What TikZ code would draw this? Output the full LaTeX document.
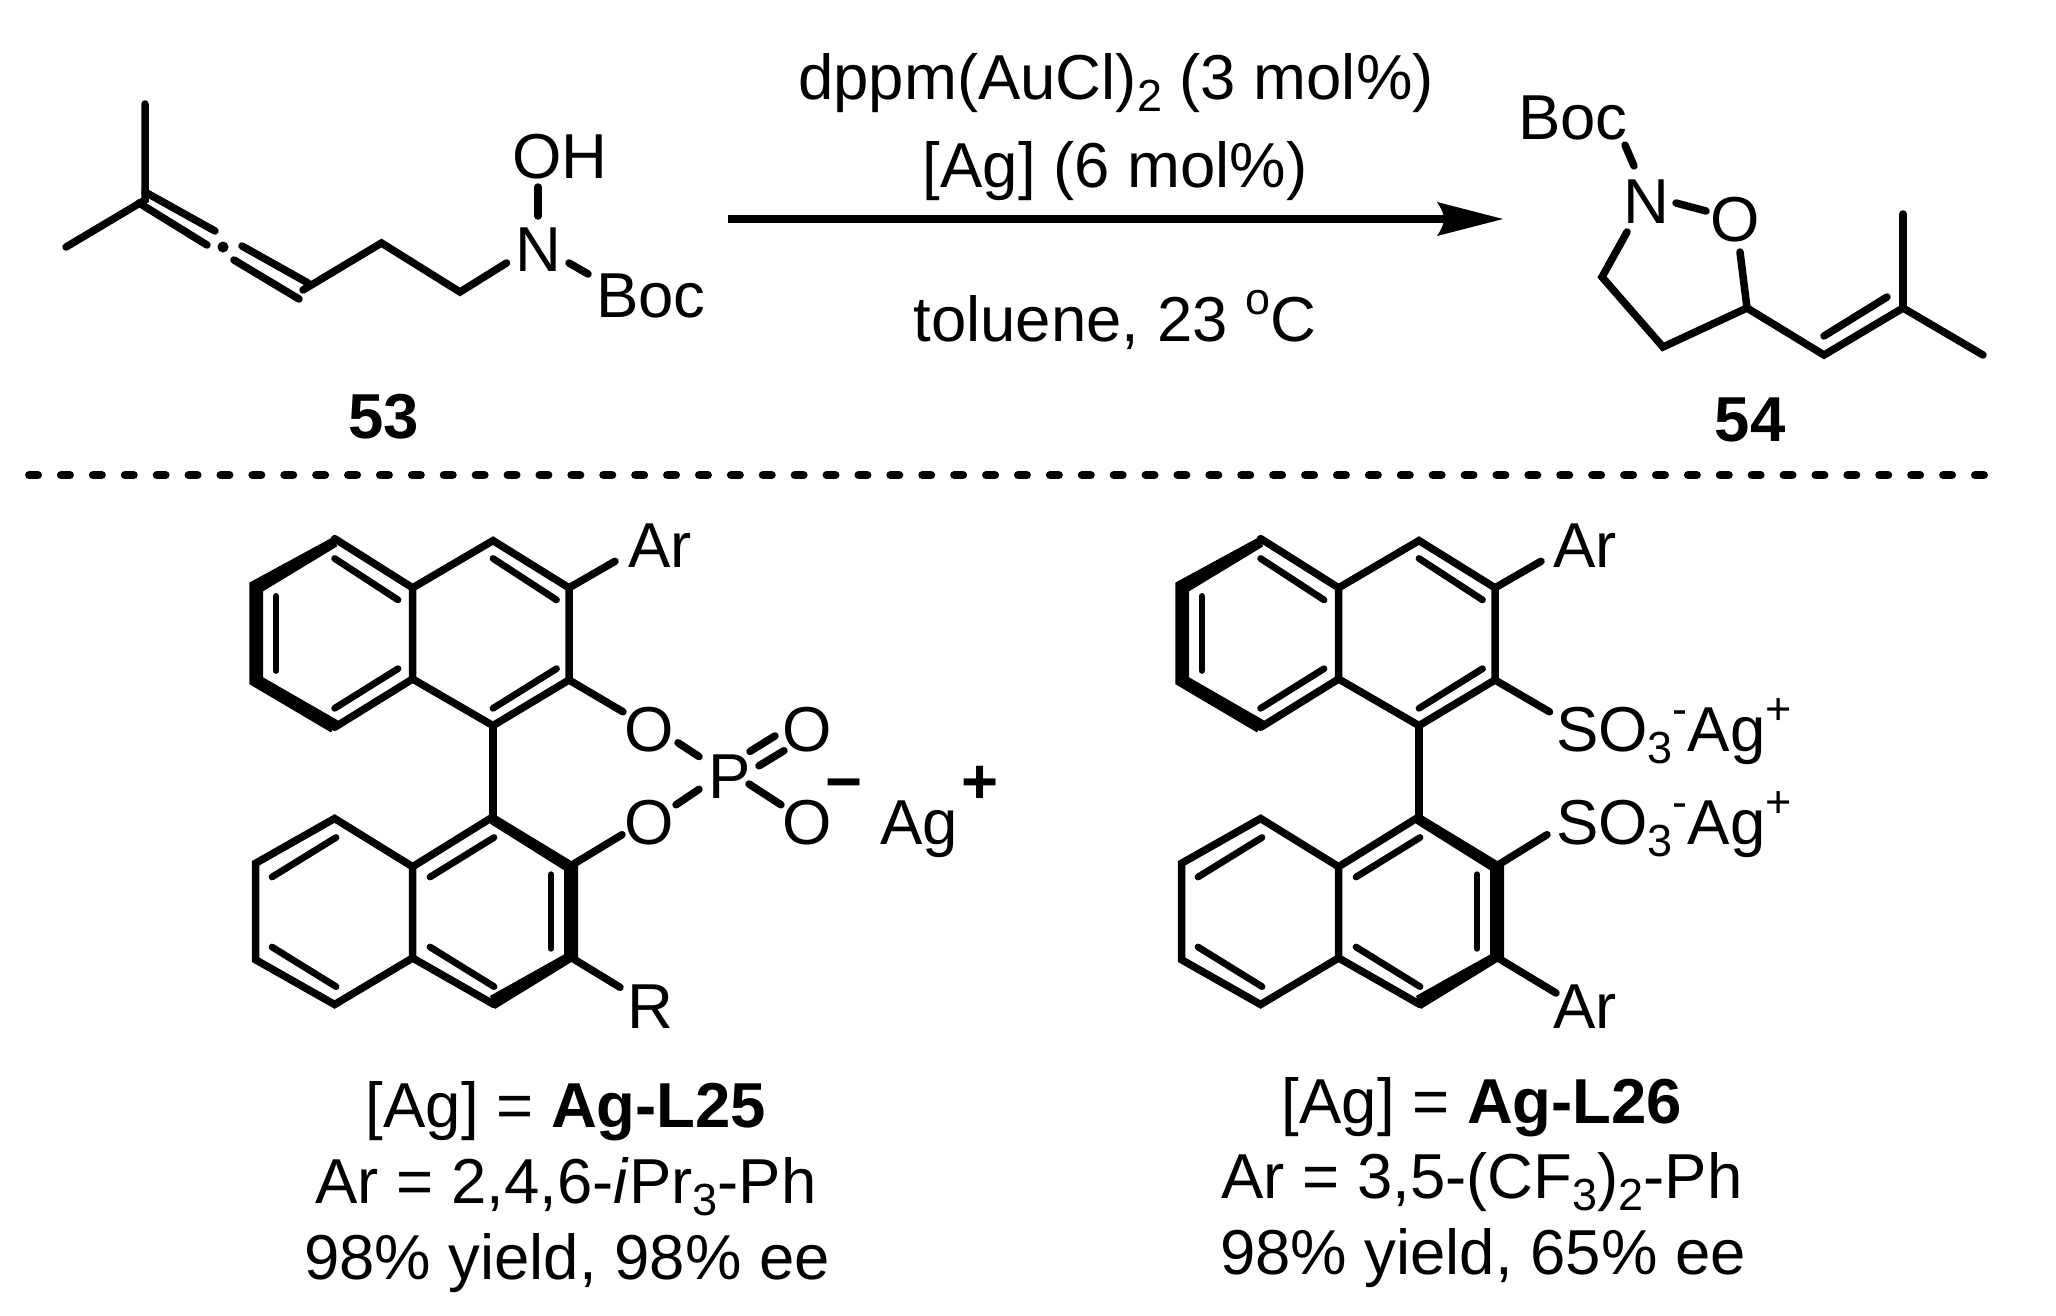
\documentclass[tikz,border=0pt]{standalone}
\usepackage{fontspec}
\setmainfont{Liberation Sans}
\newcommand{\subt}[1]{\raisebox{-0.19em}{\fontsize{45}{45}\selectfont #1}}
\newcommand{\supt}[1]{\raisebox{0.42em}{\fontsize{45}{45}\selectfont #1}}
\newcommand{\binaph}{%
  % upper naphthalene
  \draw[bond] (412.6,587.8) -- (493,540.6) -- (569,587.8) -- (569,680) -- (493,725.6) -- (412.6,679) -- cycle;
  \draw[bond] (412.6,587.8) -- (334.6,538.6);
  \draw[bond] (412.6,679) -- (334.6,727.3);
  \fill (334.6,536.2) -- (249.4,582.6) -- (249.4,684.2) -- (331,732.4) -- (338,720.4) -- (263,677.3) -- (263,591.3) -- (337,546.5) -- cycle;
  \draw[inner] (334.6,558.5) -- (398,599.9);
  \draw[inner] (276,596.4) -- (276,670.5);
  \draw[inner] (334.6,708.3) -- (398,668.7);
  \draw[inner] (493,558.5) -- (556.5,599.9);
  \draw[inner] (493,708.3) -- (556.5,668.7);
  % biaryl bond
  \draw[bond] (493,725.6) -- (493,815);
  % lower naphthalene
  \draw[bond] (493,816.8) -- (412.6,866.7) -- (412.6,958) -- (494,1004.5);
  \draw[bond] (412.6,866.7) -- (334.6,818.5) -- (255.5,863.3) -- (255.5,959.7) -- (334.6,1004.5) -- (412.6,958);
  \fill (493,813.4) -- (578,865) -- (578,958) -- (495,1009) -- (490,995.9) -- (564,954.5) -- (564,870.2) -- (490,823.7) -- cycle;
  \draw[inner] (272,877) -- (336,837.5);
  \draw[inner] (272,947) -- (336,986.6);
  \draw[inner] (430,877) -- (494,837.5);
  \draw[inner] (430,947) -- (494,986.6);
  \draw[inner] (551,874.7) -- (551,948.3);
  % substituent at upper 3-position
  \draw[bond] (569,587.8) -- (615,561.3);
}
\tikzset{
  bond/.style={line width=7.5pt,line cap=round,line join=miter},
  inner/.style={line width=6.8pt,line cap=round},
  lab/.style={inner sep=0pt,outer sep=0pt,anchor=base,font=\fontsize{63.5}{65}\selectfont},
  labl/.style={lab,anchor=base west},
  blab/.style={lab,font=\fontsize{63.5}{65}\selectfont\bfseries},
}
\begin{document}
\begin{tikzpicture}[x=1pt,y=-1pt]
\useasboundingbox (0,0) rectangle (2056,1315);
\fill[white] (0,0) rectangle (2056,1315);
% --- substrate 53
\draw[bond] (145,104) -- (145,200) -- (66,247);
\draw[bond] (145,192) -- (215,231);
\draw[bond] (139,203) -- (207,245);
\fill (223,247) circle (5.5);
\draw[bond] (242,246) -- (308,283);
\draw[bond] (234,260) -- (299,299);
\draw[bond] (303,290) -- (381.5,243) -- (460,292) -- (506.5,263);
\draw[bond] (538,187) -- (538,216);
\draw[bond] (569,263) -- (588,274);
\node[lab] (oh) at (560,178) {OH};
\node[lab] (n53) at (538,271) {N};
\node[lab] (boc53) at (651,317) {Boc};
\node[blab] (c53) at (384,438) {53};
% --- arrow
\coordinate (arrA) at (728,219);
\coordinate (arrB) at (1503,219);
\draw[line width=7.7pt] (arrA) -- (1450,219);
\fill (arrB) -- (1437,202) .. controls (1441,208) and (1444,214) .. (1444,219) .. controls (1444,224) and (1441,230) .. (1437,236) -- cycle;
\node[lab] (t1) at (1116,99) {dppm(AuCl)\subt{2} (3 mol\%)};
\node[lab] (t2) at (1115,187) {[Ag] (6 mol\%)};
\node[lab] (t3) at (1115,341) {toluene, 23 \supt{o}C};
% --- product 54
\draw[bond] (1625,145) -- (1634,166);
\draw[bond] (1676,203) -- (1706,211);
\draw[bond] (1627,232) -- (1602,277) -- (1663,347) -- (1747,308) -- (1740,252);
\draw[bond] (1747,308) -- (1824,355) -- (1903,308) -- (1983,355);
\draw[bond] (1903,308) -- (1903,214);
\draw[bond] (1824,336) -- (1887,297);
\node[lab] (boc54) at (1573,139) {Boc};
\node[lab] (n54) at (1646.5,223) {N};
\node[lab] (o54) at (1735,241) {O};
\node[blab] (c54) at (1750,441) {54};
% --- dashed separator
\coordinate (sepA) at (29.3,475);
\coordinate (sepB) at (1985,475);
\draw[line width=8.5pt,line cap=round,dash pattern=on 8.5pt off 23.4pt] (sepA) -- (sepB);
% --- Ag-L25
\binaph
\draw[bond] (569,680) -- (623,711.8);
\draw[bond] (572,865) -- (622,834.7);
\draw[bond] (572,958) -- (620,987.3);
\draw[bond] (678,742.8) -- (699,756.5);
\draw[bond] (699,789.3) -- (676,804.8);
\draw[bond] (750,751.4) -- (775,735.9);
\draw[bond] (759,765.8) -- (784,750.7);
\draw[bond] (749,784) -- (781,804.8);
\node[lab] (ar1) at (660,567) {Ar};
\node[lab] (o1) at (649,751) {O};
\node[lab] (o2) at (649,844) {O};
\node[lab] (o3) at (807.5,751) {O};
\node[lab] (o4) at (807.5,844) {O};
\node[lab] (p1) at (730,798) {P};
\node[lab] (r1) at (650,1028.6) {R};
\node[blab] (minus) at (844,803) {−};
\node[labl] (ag1) at (880,844.4) {Ag};
\node[blab] (plus) at (980,803) {+};
\node[lab] (l1) at (566,1127) {[Ag] = \textbf{Ag-L25}};
\node[lab] (l2) at (566,1203) {Ar = 2,4,6-\textit{i}Pr\subt{3}-Ph};
\node[lab] (l3) at (567,1279) {98\% yield, 98\% ee};
% --- Ag-L26
\begin{scope}[xshift=926pt]
\binaph
\draw[bond] (569,680) -- (623.5,711.8);
\draw[bond] (572,865) -- (621,834.7);
\draw[bond] (572,958) -- (630,993);
\end{scope}
\node[lab] (ar2) at (1585,567) {Ar};
\node[lab] (ar3) at (1585,1028.6) {Ar};
\node[labl] (s1) at (1556,751.4) {SO\subt{3}\supt{-}Ag\supt{+}};
\node[labl] (s2) at (1556,844.4) {SO\subt{3}\supt{-}Ag\supt{+}};
\node[lab] (l4) at (1482,1123) {[Ag] = \textbf{Ag-L26}};
\node[lab] (l5) at (1482,1198) {Ar = 3,5-(CF\subt{3})\subt{2}-Ph};
\node[lab] (l6) at (1483,1274) {98\% yield, 65\% ee};
\end{tikzpicture}
\end{document}
